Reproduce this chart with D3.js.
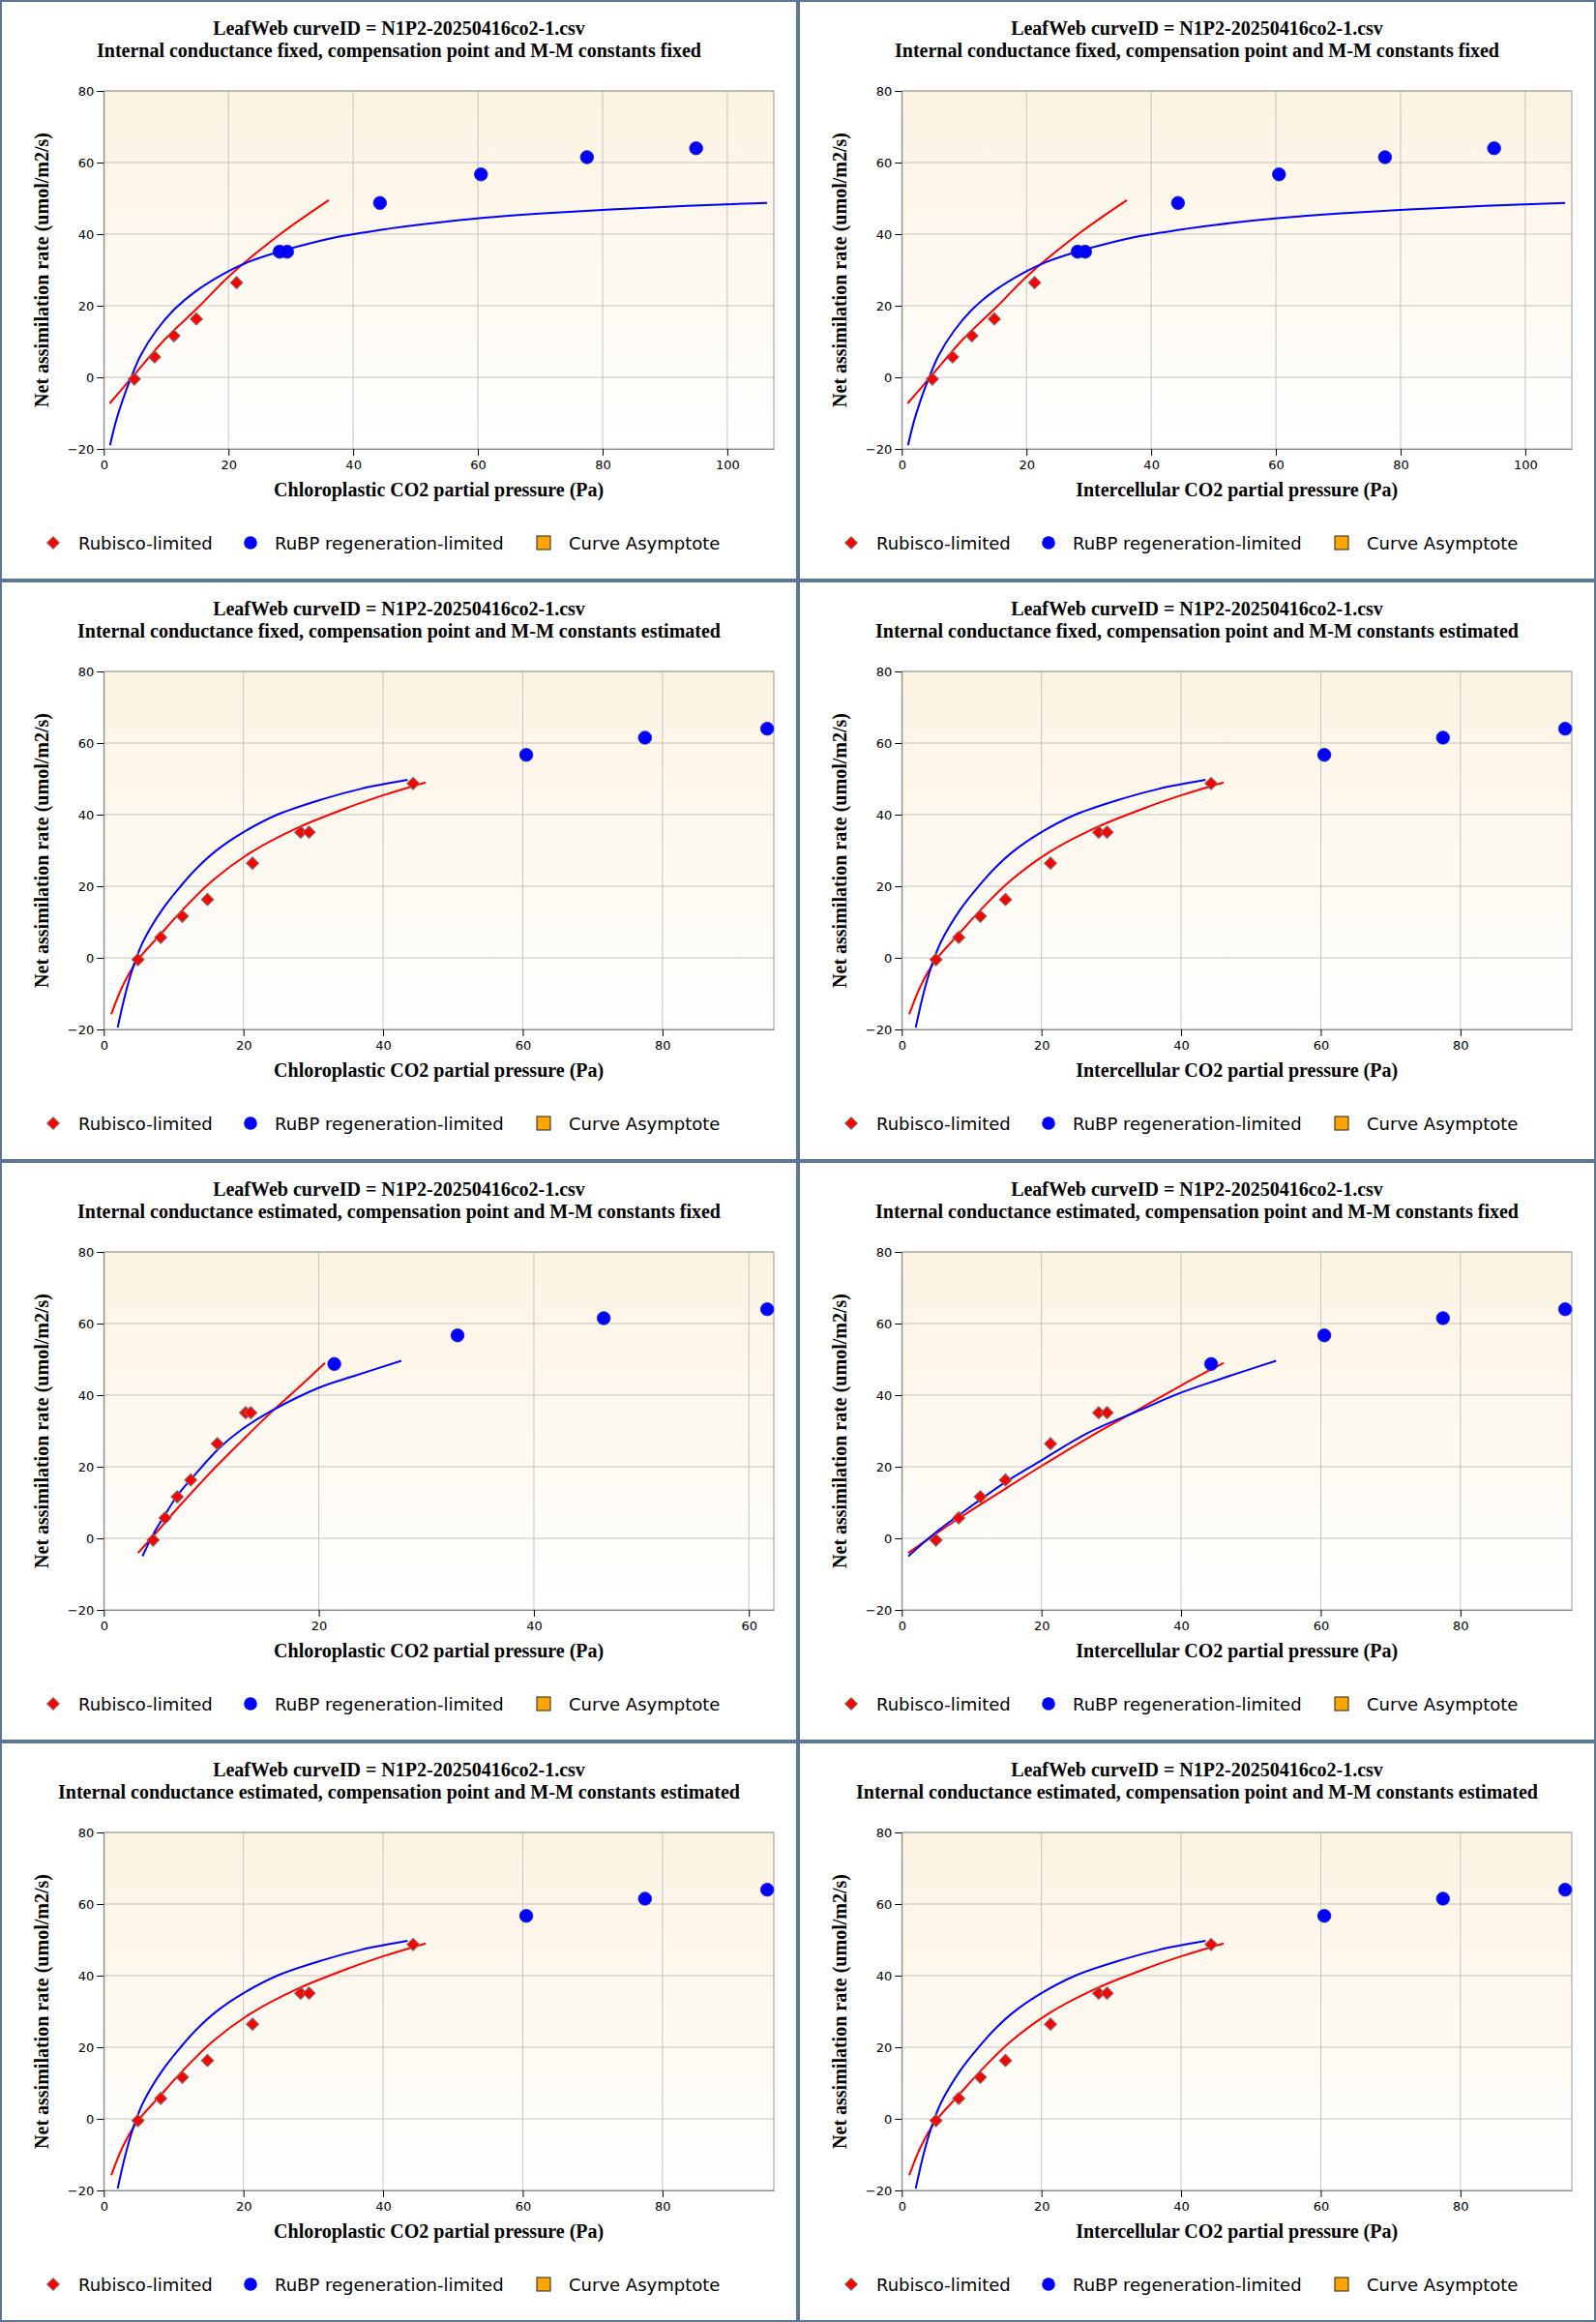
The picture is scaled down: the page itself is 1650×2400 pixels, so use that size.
<!DOCTYPE html>
<html>
<head>
<meta charset="utf-8">
<script src="https://cdn.jsdelivr.net/npm/d3@7"></script>
<style>
  body { margin: 0; background: #fff; }
  svg { display: block; }
</style>
</head>
<body>
<div id="chart"></div>
<script>
var W = 1650, H = 2400;
var pw = 825, ph = 600;
var plot = {left: 107.3, right: 800, top: 94, bottom: 464};

var fileTitle = "LeafWeb curveID = N1P2-20250416co2-1.csv";
var subtitles = [
  "Internal conductance fixed, compensation point and M-M constants fixed",
  "Internal conductance fixed, compensation point and M-M constants fixed",
  "Internal conductance fixed, compensation point and M-M constants estimated",
  "Internal conductance fixed, compensation point and M-M constants estimated",
  "Internal conductance estimated, compensation point and M-M constants fixed",
  "Internal conductance estimated, compensation point and M-M constants fixed",
  "Internal conductance estimated, compensation point and M-M constants estimated",
  "Internal conductance estimated, compensation point and M-M constants estimated"
];
var xLabels = ["Chloroplastic CO2 partial pressure (Pa)", "Intercellular CO2 partial pressure (Pa)"];
var yLabel = "Net assimilation rate (umol/m2/s)";
var legendLabels = ["Rubisco-limited", "RuBP regeneration-limited", "Curve Asymptote"];
var yTicks = [-20, 0, 20, 40, 60, 80];

// observations
var netA  = [-0.5, 5.7, 11.6, 16.3, 26.45, 35.1, 35.1, 48.7, 56.7, 61.5, 64.0];
var ciObs = [4.9, 8.15, 11.25, 14.85, 21.3, 28.2, 29.4, 44.3, 60.5, 77.5, 95.0];
var ccObs = [4.59, 5.7, 6.83, 8.09, 10.56, 13.19, 13.67, 21.44, 32.9, 46.5, 61.7];

// how many of the first points are rubisco limited, per panel
var rubiscoCount = [5, 5, 8, 8, 7, 7, 8, 8];
// which x values each panel uses
var panelX = ["ci", "ci", "ci", "ci", "cc", "ci", "ci", "ci"];
var panelFit = [0, 0, 1, 1, 2, 3, 1, 1];

// fitted curves
var rubiscoFits = [
  [[0.93,-7.3],[4.55,0],[9.8,10.6],[15.4,20],[20.06,28.2],[28.3,40],[36.1,49.5]],
  [[1.07,-15.8],[2.69,-7.9],[4.76,-0.9],[8.2,6.7],[11.0,12.8],[15.6,21.6],[21.1,29.5],[27.6,36.2],[35.0,42],[40.5,45.7],[46.1,49]],
  [[3.18,-4.1],[4.59,0.6],[6.83,8.3],[10.43,20],[12.83,27.2],[15.53,35.1],[17.93,41.6],[20.57,49]],
  [[0.93,-4.1],[4.76,1.1],[8.2,5.6],[14.7,13.7],[20.0,20.2],[26.7,28.1],[34.1,36.2],[40.0,42.7],[46.1,49]]
];
var rubpFits = [
  [[1.0,-19],[2.0,-12],[3.5,-4],[4.4,0],[5.84,5.9],[8.43,13.1],[11.27,18.9],[14.63,23.9],[20.06,29.7],[23.16,32.2],[27.55,34.8],[33.24,37.5],[38.4,39.5],[45.4,41.45],[50.6,42.65],[60.7,44.5],[70.5,45.8],[81.3,46.9],[93.5,47.9],[106.4,48.7]],
  [[1.99,-19.5],[3.14,-9.7],[4.53,-0.7],[5.91,5.6],[8.45,13.7],[11.0,20],[13.3,25],[16.07,29.9],[20.0,35.1],[24.85,40],[31.3,44.3],[36.8,47.2],[43.5,49.7]],
  [[3.6,-5],[4.59,1.1],[5.68,6.5],[6.83,11.9],[8.34,17.3],[10.74,25.2],[12.83,30.4],[15.53,35.5],[20.03,42.1],[23.33,45.4],[27.67,49.6]],
  [[0.93,-5],[4.76,1.5],[8.2,6.5],[14.7,15.5],[20.0,21.8],[26.7,29.5],[34.1,35.8],[40.0,40.7],[45.15,44.2],[48.85,46.6],[53.6,49.6]]
];

var svg = d3.select("#chart").append("svg").attr("width", W).attr("height", H);

var defs = svg.append("defs");
var grad = defs.append("linearGradient").attr("id", "bg").attr("x1", 0).attr("y1", 0).attr("x2", 0).attr("y2", 1);
grad.append("stop").attr("offset", "0%").attr("stop-color", "#fcf3e2");
grad.append("stop").attr("offset", "100%").attr("stop-color", "#ffffff");

var serif = "'Liberation Serif', 'Times New Roman', serif";
var sans = "'DejaVu Sans', Verdana, sans-serif";

function drawPanel(i) {
  var col = i % 2, row = Math.floor(i / 2);
  var g = svg.append("g").attr("transform", "translate(" + col * pw + "," + row * ph + ")");

  var xs = panelX[i] == "cc" ? ccObs : ciObs;
  var rub = rubiscoFits[panelFit[i]];
  var rubp = rubpFits[panelFit[i]];
  var pts = xs.map(function (x, k) { return {x: x, y: netA[k], rubisco: k < rubiscoCount[i]}; });

  var xmax = d3.max([d3.max(xs), d3.max(rub, function (d) { return d[0]; }), d3.max(rubp, function (d) { return d[0]; })]) * 1.01;
  var x = d3.scaleLinear().domain([0, xmax]).range([plot.left, plot.right]);
  var y = d3.scaleLinear().domain([-20, 80]).range([plot.bottom, plot.top]);
  var xTicks = d3.range(0, xmax, 20);

  g.append("text").attr("x", pw / 2).attr("y", 36).attr("text-anchor", "middle")
    .style("font-family", serif).style("font-weight", "bold").style("font-size", "20px").text(fileTitle);
  g.append("text").attr("x", pw / 2).attr("y", 59).attr("text-anchor", "middle")
    .style("font-family", serif).style("font-weight", "bold").style("font-size", "20px").text(subtitles[i]);

  g.append("rect").attr("x", plot.left).attr("y", plot.top)
    .attr("width", plot.right - plot.left).attr("height", plot.bottom - plot.top)
    .attr("fill", "url(#bg)");

  // grid
  g.append("g").selectAll("line.vx").data(xTicks.slice(1)).enter().append("line")
    .attr("x1", function (d) { return x(d); }).attr("x2", function (d) { return x(d); })
    .attr("y1", plot.top).attr("y2", plot.bottom)
    .attr("stroke", "#c4c4c4").attr("stroke-width", 1);
  g.append("g").selectAll("line.hy").data(yTicks.slice(1)).enter().append("line")
    .attr("x1", plot.left).attr("x2", plot.right)
    .attr("y1", function (d) { return y(d); }).attr("y2", function (d) { return y(d); })
    .attr("stroke", "#c4c4c4").attr("stroke-width", 1);

  g.append("rect").attr("x", plot.left).attr("y", plot.top)
    .attr("width", plot.right - plot.left).attr("height", plot.bottom - plot.top)
    .attr("fill", "none").attr("stroke", "#9a9a9a").attr("stroke-width", 1);

  // axes
  var xAxis = g.append("g").attr("transform", "translate(0," + plot.bottom + ")")
    .call(d3.axisBottom(x).tickValues(xTicks).tickSize(7).tickSizeOuter(0).tickPadding(5));
  var yAxis = g.append("g").attr("transform", "translate(" + plot.left + ",0)")
    .call(d3.axisLeft(y).tickValues(yTicks).tickSize(7).tickSizeOuter(0).tickPadding(3));
  [xAxis, yAxis].forEach(function (a) {
    a.select(".domain").attr("stroke", "#8a8a8a");
    a.selectAll(".tick line").attr("stroke", "#000");
    a.selectAll(".tick text").style("font-family", sans).style("font-size", "13px").attr("fill", "#000");
  });

  g.append("text").attr("x", (plot.left + plot.right) / 2).attr("y", 513).attr("text-anchor", "middle")
    .style("font-family", serif).style("font-weight", "bold").style("font-size", "20px").text(xLabels[col]);
  g.append("text").attr("transform", "translate(50," + (plot.top + plot.bottom) / 2 + ") rotate(-90)")
    .attr("text-anchor", "middle")
    .style("font-family", serif).style("font-weight", "bold").style("font-size", "20px").text(yLabel);

  // curves
  var line = d3.line().x(function (d) { return x(d[0]); }).y(function (d) { return y(d[1]); }).curve(d3.curveCatmullRom.alpha(0.5));
  g.append("path").attr("d", line(rub)).attr("fill", "none").attr("stroke", "#ff0000").attr("stroke-width", 2);
  g.append("path").attr("d", line(rubp)).attr("fill", "none").attr("stroke", "#0000ff").attr("stroke-width", 2);

  // points
  var diamond = d3.symbol().type(d3.symbolSquare).size(82);
  g.append("g").selectAll("path").data(pts.filter(function (d) { return d.rubisco; })).enter().append("path")
    .attr("d", diamond)
    .attr("transform", function (d) { return "translate(" + x(d.x) + "," + y(d.y) + ") rotate(45)"; })
    .attr("fill", "#ff0000").attr("stroke", "#777").attr("stroke-width", 1);
  g.append("g").selectAll("circle").data(pts.filter(function (d) { return !d.rubisco; })).enter().append("circle")
    .attr("cx", function (d) { return x(d.x); }).attr("cy", function (d) { return y(d.y); })
    .attr("r", 6.8).attr("fill", "#0000ff").attr("stroke", "#1a1ad0").attr("stroke-width", 0.8);

  // legend
  var lg = g.append("g");
  lg.append("path").attr("d", diamond).attr("transform", "translate(55,561) rotate(45)")
    .attr("fill", "#ff0000").attr("stroke", "#777").attr("stroke-width", 1);
  lg.append("circle").attr("cx", 259).attr("cy", 561).attr("r", 6.8).attr("fill", "#0000ff");
  lg.append("rect").attr("x", 555).attr("y", 554).attr("width", 14).attr("height", 14)
    .attr("fill", "#ffa500").attr("stroke", "#222").attr("stroke-width", 1);
  var lx = [81, 284, 588];
  lg.selectAll("text").data(legendLabels).enter().append("text")
    .attr("x", function (d, k) { return lx[k]; }).attr("y", 567.5)
    .style("font-family", sans).style("font-size", "18px").attr("fill", "#000")
    .text(function (d) { return d; });

  g.append("rect").attr("x", 1).attr("y", 1).attr("width", pw - 2).attr("height", ph - 2)
    .attr("fill", "none").attr("stroke", "#5e7593").attr("stroke-width", 2);
}

for (var i = 0; i < 8; i++) {
  drawPanel(i);
}
</script>
</body>
</html>
